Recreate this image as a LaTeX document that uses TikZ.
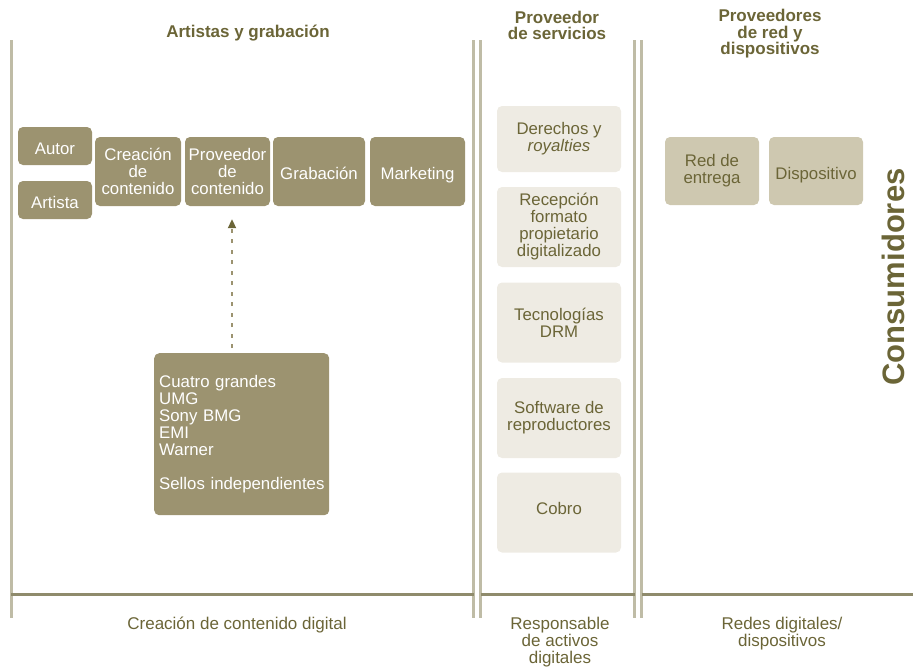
\documentclass[tikz,border=0pt]{standalone}
\usepackage{fontspec}
\setmainfont{Liberation Sans}
\usetikzlibrary{arrows.meta}
\definecolor{dk}{HTML}{9C9370}
\definecolor{ol}{HTML}{6B6537}
\definecolor{lt}{HTML}{EEEBE3}
\definecolor{md}{HTML}{CEC8B0}
\definecolor{vl}{HTML}{BFBCA6}
\definecolor{hl}{HTML}{8F8B6C}
\tikzset{
  box/.style={rounded corners=5pt, inner sep=0pt, font=\fontsize{16.8}{17}\selectfont},
  multi/.style={align=center},
  oneline/.style={text height=20pt, text depth=3.5pt},
  darkbox/.style={box, fill=dk, text=white},
  lightbox/.style={box, fill=lt, text=ol, minimum width=124, minimum height=80},
  midbox/.style={box, fill=md, text=ol, minimum width=94, minimum height=68},
  rowbox/.style={darkbox, minimum height=69},
  header/.style={align=center, text=ol, inner sep=0pt, font=\fontsize{17}{16.5}\selectfont\bfseries},
  footer/.style={align=center, text=ol, inner sep=0pt, font=\fontsize{17}{17}\selectfont},
  vline/.style={draw=vl, line width=3pt},
  hline/.style={draw=hl, line width=3pt},
  arr/.style={draw=dk, line width=2pt, dash pattern=on 4pt off 6.5pt, -{Triangle[length=9pt,width=8pt,color=ol]}}
}
\begin{document}
\begin{tikzpicture}[x=1pt,y=-1pt]
\useasboundingbox (0,0) rectangle (913,667);

% separators
\coordinate (l0t) at (11,40);   \coordinate (l0b) at (11,618);
\coordinate (l1t) at (473.5,40); \coordinate (l1b) at (473.5,618);
\coordinate (l2t) at (480.5,40); \coordinate (l2b) at (480.5,618);
\coordinate (l3t) at (634.5,40); \coordinate (l3b) at (634.5,618);
\coordinate (l4t) at (641.5,40); \coordinate (l4b) at (641.5,618);
\coordinate (hr) at (913,594);
\draw[vline] (l0t) -- (l0b);
\draw[vline] (l1t) -- (l1b);
\draw[vline] (l2t) -- (l2b);
\draw[vline] (l3t) -- (l3b);
\draw[vline] (l4t) -- (l4b);
\draw[hline] (l0t |- hr) -- (l1t |- hr);
\draw[hline] (l2t |- hr) -- (l3t |- hr);
\draw[hline] (l4t |- hr) -- (hr);

% headers
\node[header] (h1) at (248,33) {Artistas y grabación};
\node[header] (h2) at (557,25.5) {Proveedor\\de servicios};
\node[header] (h3) at (770,34) {Proveedores\\de red y\\dispositivos};

% footers
\node[footer] (f1) at (237,625) {Creación de contenido digital};
\node[footer] (f2) at (560,642) {Responsable\\de activos\\digitales};
\node[footer] (f3) at (782,633.5) {Redes digitales/\\dispositivos};

% consumidores
\node[text=ol, inner sep=0pt, rotate=90, font=\fontsize{31}{31}\selectfont\bfseries] (cons) at (893,277) {Consumidores};

% artist boxes
\node[darkbox, oneline, minimum width=74, minimum height=38] (autor) at (55,146) {Autor};
\node[darkbox, oneline, minimum width=74, minimum height=38] (artista) at (55,200) {Artista};
\node[rowbox, multi, minimum width=86] (crea) at (138,171.5) {Creación\\de\\contenido};
\node[rowbox, multi, minimum width=85] (prov) at (227.5,171.5) {Proveedor\\de\\contenido};
\node[rowbox, oneline, minimum width=92] (grab) at (319,171.5) {Grabación};
\node[rowbox, oneline, minimum width=95] (mark) at (417.5,171.5) {Marketing};

\node[darkbox, align=left, text width=165pt, inner xsep=5pt, minimum width=175, minimum height=162, anchor=north west] (big) at (154,353)
  {Cuatro grandes\\UMG\\Sony BMG\\EMI\\Warner\\[17pt]\mbox{Sellos independientes}};

\coordinate (ax) at (232,0);
\draw[arr, shorten <=5pt, shorten >=13pt] (big.north -| ax) -- (prov.south -| ax);

% service provider boxes
\node[lightbox, multi, minimum height=66] (der) at (559,139) {Derechos y\\\textit{royalties}};
\node[lightbox, multi] (rec) at (559,227) {Recepción\\formato\\propietario\\digitalizado};
\node[lightbox, multi] (drm) at (559,322.5) {Tecnologías\\DRM};
\node[lightbox, multi] (soft) at (559,418) {Software de\\reproductores};
\node[lightbox, text height=12pt, text depth=8pt] (cobro) at (559,512.5) {Cobro};

% network boxes
\node[midbox, multi] (red) at (712,171) {Red de\\entrega};
\node[midbox, oneline] (disp) at (816,171) {Dispositivo};
\end{tikzpicture}
\end{document}
